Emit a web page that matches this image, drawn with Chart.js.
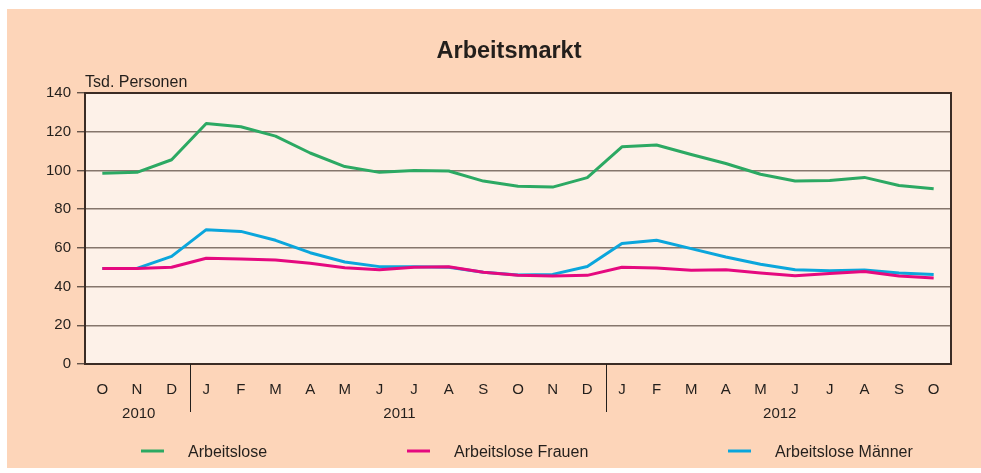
<!DOCTYPE html>
<html>
<head>
<meta charset="utf-8">
<script src="https://cdn.jsdelivr.net/npm/chart.js@4/dist/chart.umd.min.js"></script>
<style>
  body { margin: 0; background: #ffffff; }
  #wrap { width: 981px; height: 473px; }
</style>
</head>
<body>
<div id="wrap"><canvas id="myChart" width="981" height="473"></canvas></div>
<script>
// months Oct 2010 .. Oct 2012
const months = ['O', 'N', 'D', 'J', 'F', 'M', 'A', 'M', 'J', 'J', 'A', 'S', 'O', 'N', 'D',
  'J', 'F', 'M', 'A', 'M', 'J', 'J', 'A', 'S', 'O'];
const years = ['2010', '2011', '2012'];
const yearStart = [0, 3, 15]; // index of first month of each year

// Tsd. Personen
const arbeitslose = [98.5, 99, 105.5, 124.2, 122.6, 117.7, 109, 102, 99, 100, 99.7, 94.5,
  91.8, 91.4, 96.3, 112.2, 113.1, 108.2, 103.6, 98, 94.5, 94.8, 96.4, 92.2, 90.5];
const frauen = [49.4, 49.3, 50, 54.6, 54.3, 53.7, 52, 49.7, 48.7, 50, 50.2, 47.4,
  45.8, 45.5, 45.8, 50, 49.6, 48.4, 48.7, 47, 45.6, 46.8, 47.8, 45.5, 44.4];
const maenner = [49.4, 49.4, 55.6, 69.4, 68.5, 63.9, 57.5, 52.7, 50.3, 50.3, 50, 47.4,
  46, 46.3, 50.4, 62.3, 63.9, 59.6, 55.3, 51.5, 48.7, 48.2, 48.6, 47, 46.3];

const yTicks = [0, 20, 40, 60, 80, 100, 120, 140];

const titleText = 'Arbeitsmarkt';
const unitText = 'Tsd. Personen';

const FONT = '"Liberation Sans", Arial, sans-serif';
const INK = '#231f1c';

const framePlugin = {
  id: 'frame',
  beforeDraw(chart) {
    const c = chart.ctx, a = chart.chartArea;
    c.save();
    c.fillStyle = '#ffffff';
    c.fillRect(0, 0, chart.width, chart.height);
    c.fillStyle = '#fdd5b9';
    c.fillRect(7, 9, chart.width - 7, 459);
    c.fillStyle = '#fdf1e8';
    c.fillRect(a.left, a.top, a.right - a.left, a.bottom - a.top);
    c.restore();
  },
  afterDraw(chart) {
    const c = chart.ctx, a = chart.chartArea, x = chart.scales.x;
    c.save();
    // plot frame
    c.strokeStyle = '#3b2c25';
    c.lineWidth = 2;
    c.strokeRect(a.left, a.top, a.right - a.left, a.bottom - a.top);

    // title + unit
    c.fillStyle = INK;
    c.textBaseline = 'alphabetic';
    c.textAlign = 'center';
    c.font = 'bold 23.5px ' + FONT;
    c.fillText(titleText, 509, 57.5);
    c.textAlign = 'left';
    c.font = '16px ' + FONT;
    c.fillText(unitText, 85, 86.5);

    // year separators and labels
    c.strokeStyle = '#231f1c';
    c.lineWidth = 1;
    c.font = '15px ' + FONT;
    c.textAlign = 'center';
    c.textBaseline = 'middle';
    const seps = [a.left];
    years.forEach((yr, i) => {
      if (i > 0) {
        const first = yearStart[i];
        const sx = Math.round((x.getPixelForValue(first - 1) + x.getPixelForValue(first)) / 2) + 1.5;
        seps.push(sx);
        c.beginPath();
        c.moveTo(sx, a.bottom);
        c.lineTo(sx, 412);
        c.stroke();
      }
    });
    seps.push(a.right);
    years.forEach((yr, i) => {
      c.fillText(yr, (seps[i] + seps[i + 1]) / 2 + 1, 413.5);
    });

    // legend
    const legX = [141, 407, 728];
    c.font = '16px ' + FONT;
    c.textAlign = 'left';
    chart.data.datasets.forEach((ds, i) => {
      c.strokeStyle = ds.borderColor;
      c.lineWidth = 3;
      c.beginPath();
      c.moveTo(legX[i], 451);
      c.lineTo(legX[i] + 23, 451);
      c.stroke();
      c.fillStyle = INK;
      c.fillText(ds.label, legX[i] + 47, 453);
    });
    c.restore();
  }
};

const ctx = document.getElementById('myChart').getContext('2d');

new Chart(ctx, {
  type: 'line',
  data: {
    labels: months,
    datasets: [
      { label: 'Arbeitslose', data: arbeitslose, borderColor: '#2ca963' },
      { label: 'Arbeitslose Frauen', data: frauen, borderColor: '#e5097f' },
      { label: 'Arbeitslose Männer', data: maenner, borderColor: '#0ba6dc' }
    ]
  },
  options: {
    responsive: false,
    animation: false,
    events: [],
    layout: { padding: { left: 0, right: 30, top: 93, bottom: 0 } },
    elements: {
      line: { borderWidth: 3, tension: 0, borderJoinStyle: 'round' },
      point: { radius: 0 }
    },
    plugins: {
      legend: { display: false },
      title: { display: false },
      tooltip: { enabled: false }
    },
    scales: {
      x: {
        offset: true,
        grid: { display: false },
        border: { display: false },
        ticks: { color: INK, padding: 9, font: { family: FONT, size: 15 }, maxRotation: 0, autoSkip: false },
        afterFit(scale) { scale.height = 109; }
      },
      y: {
        min: 0,
        max: 140,
        afterBuildTicks(scale) { scale.ticks = yTicks.map(v => ({ value: v })); },
        grid: { color: '#85766c', lineWidth: 1.5, tickLength: 8, tickColor: '#4a3d36', tickWidth: 1.2 },
        border: { display: false },
        ticks: { color: INK, padding: 6, font: { family: FONT, size: 15 } },
        afterFit(scale) { scale.width = 85; }
      }
    }
  },
  plugins: [framePlugin]
});
</script>
</body>
</html>
